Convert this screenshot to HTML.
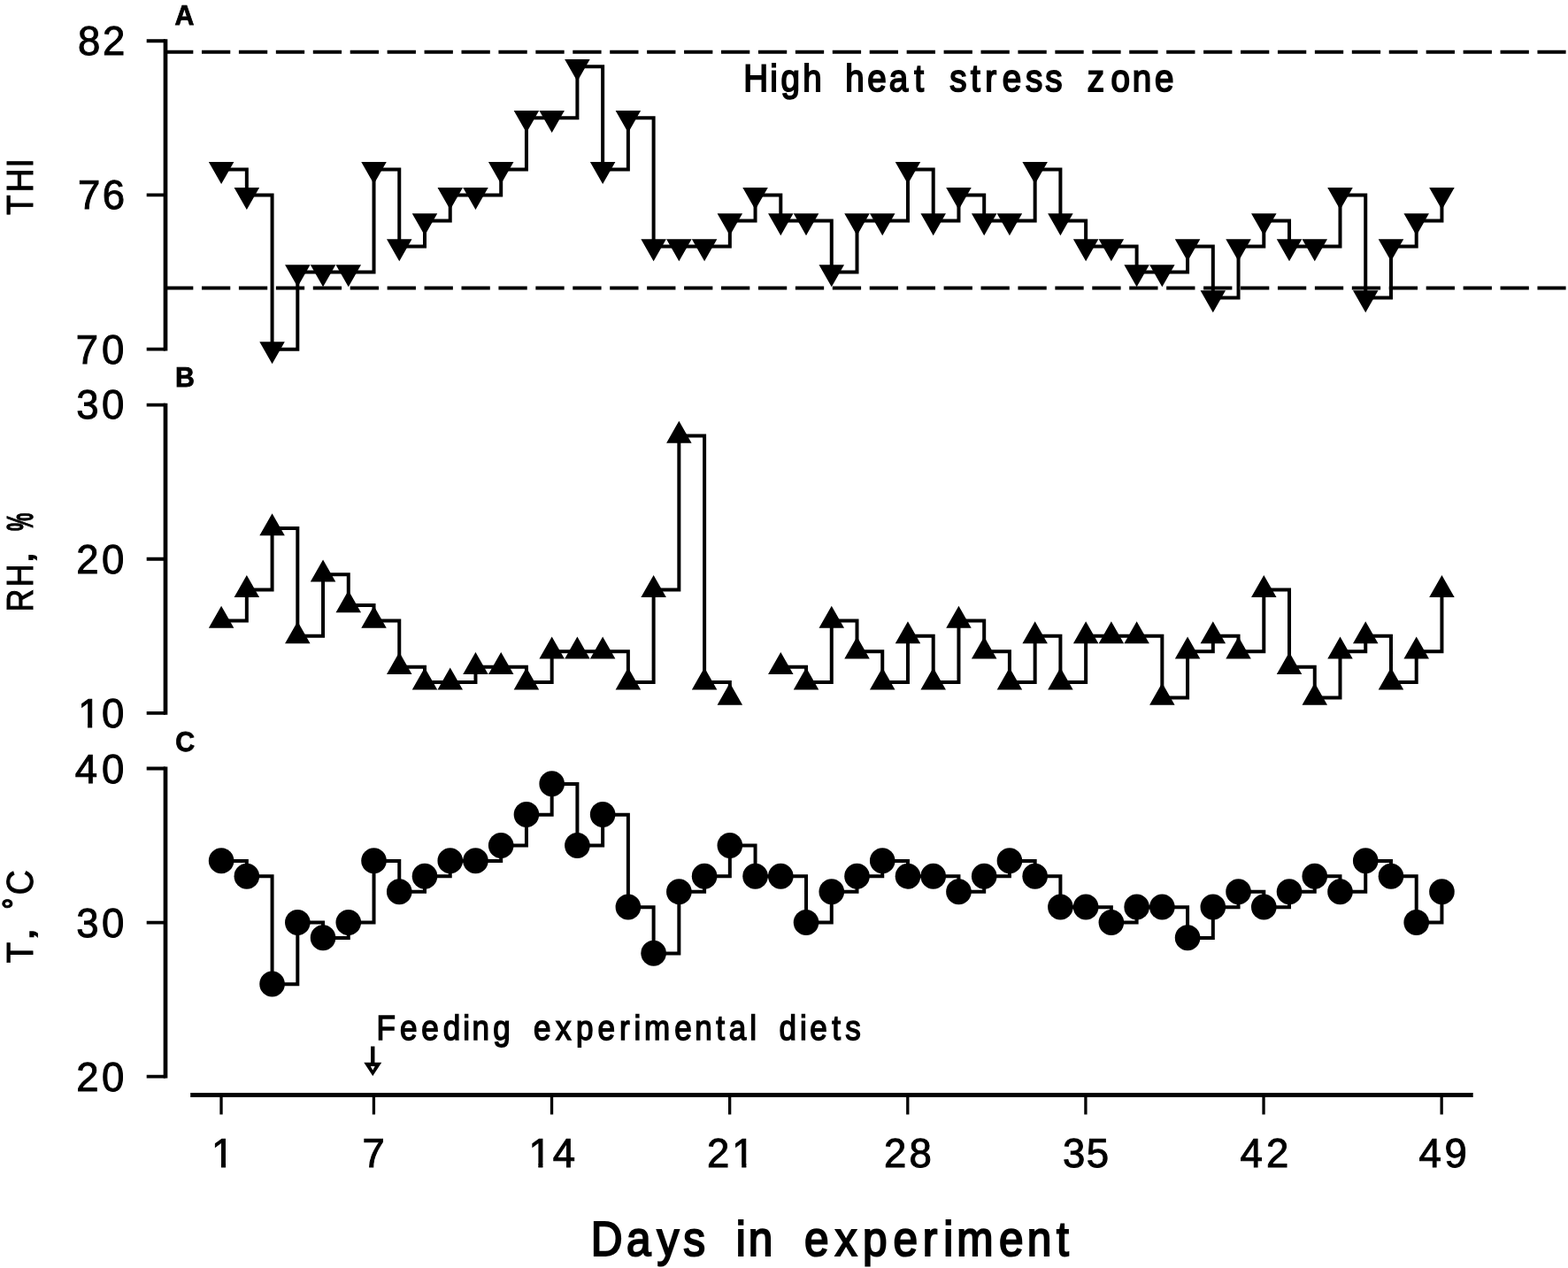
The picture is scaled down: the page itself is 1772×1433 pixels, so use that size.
<!DOCTYPE html>
<html lang="en"><head><meta charset="utf-8"><title>Days in experiment</title>
<style>html,body{margin:0;padding:0;background:#fff}body{width:1772px;height:1433px;overflow:hidden}svg{display:block}text{font-family:"Liberation Sans",sans-serif;fill:#000;text-rendering:geometricPrecision}</style>
</head><body>
<svg width="1772" height="1433" viewBox="0 0 1772 1433">
<rect width="1772" height="1433" fill="#fff"/>
<defs><clipPath id="k1" clipPathUnits="userSpaceOnUse"><path clip-rule="evenodd" d="M0 0H1772V1433H0ZM89.1 817.9H99.05V824.8H89.1ZM104.15 817.9H114.1V824.8H104.15Z"/></clipPath><clipPath id="k2" clipPathUnits="userSpaceOnUse"><path clip-rule="evenodd" d="M0 0H1772V1433H0ZM240 1314.7H249.95V1321.6H240ZM255.05 1314.7H265V1321.6H255.05Z"/></clipPath><clipPath id="k3" clipPathUnits="userSpaceOnUse"><path clip-rule="evenodd" d="M0 0H1772V1433H0ZM598.4 1314.7H608.35V1321.6H598.4ZM613.45 1314.7H623.4V1321.6H613.45Z"/></clipPath><clipPath id="k4" clipPathUnits="userSpaceOnUse"><path clip-rule="evenodd" d="M0 0H1772V1433H0ZM828.3 1314.7H838.25V1321.6H828.3ZM843.35 1314.7H853.3V1321.6H843.35Z"/></clipPath></defs>
<g stroke="#000" stroke-width="4" stroke-dasharray="32.3 9.63" fill="none">
<path d="M186.05 58.85H1769.6"/>
<path d="M186.05 325.4H1769.6"/>
</g>
<g stroke="#000" fill="none" stroke-linecap="butt">
<path d="M187 44.37V396.53" stroke-width="4.7"/>
<path d="M165.7 46.27H187M165.7 220.45H187M165.7 394.63H187" stroke-width="3.8"/>
<path d="M187 455.65V807.85" stroke-width="4.7"/>
<path d="M165.7 457.55H187M165.7 631.75H187M165.7 805.95H187" stroke-width="3.8"/>
<path d="M187 866.6V1218.6" stroke-width="4.7"/>
<path d="M165.7 868.5H187M165.7 1042.6H187M165.7 1216.7H187" stroke-width="3.8"/>
<path d="M215.2 1237.5H1664.7" stroke-width="5"/>
<path d="M250.02 1237.5V1259.4M422.41 1237.5V1259.4M623.54 1237.5V1259.4M824.66 1237.5V1259.4M1025.79 1237.5V1259.4M1226.91 1237.5V1259.4M1428.04 1237.5V1259.4M1629.16 1237.5V1259.4" stroke-width="3.3"/>
</g>
<g stroke="#000" stroke-width="4" fill="none" stroke-linejoin="miter" stroke-linecap="butt">
<path d="M250.1 191.42H278.84V220.45H307.57V394.63H336.31V307.54H365.05V307.54H393.78V307.54H422.52V191.42H451.25V278.51H479.99V249.48H508.73V220.45H537.46V220.45H566.2V191.42H594.94V133.36H623.67V133.36H652.41V75.3H681.14V191.42H709.88V133.36H738.62V278.51H767.35V278.51H796.09V278.51H824.83V249.48H853.56V220.45H882.3V249.48H911.03V249.48H939.77V307.54H968.51V249.48H997.24V249.48H1025.98V191.42H1054.71V249.48H1083.45V220.45H1112.19V249.48H1140.92V249.48H1169.66V191.42H1198.4V249.48H1227.13V278.51H1255.87V278.51H1284.61V307.54H1313.34V307.54H1342.08V278.51H1370.81V336.57H1399.55V278.51H1428.29V249.48H1457.02V278.51H1485.76V278.51H1514.49V220.45H1543.23V336.57H1571.97V278.51H1600.7V249.48H1629.44V220.45"/>
<path d="M250.1 701.43H278.84V666.59H307.57V596.91H336.31V718.85H365.05V649.17H393.78V684.01H422.52V701.43H451.25V753.69H479.99V771.11H508.73V771.11H537.46V753.69H566.2V753.69H594.94V771.11H623.67V736.27H652.41V736.27H681.14V736.27H709.88V771.11H738.62V666.59H767.35V492.39H796.09V771.11H824.83V788.53 M882.3 753.69H911.03V771.11H939.77V701.43H968.51V736.27H997.24V771.11H1025.98V718.85H1054.71V771.11H1083.45V701.43H1112.19V736.27H1140.92V771.11H1169.66V718.85H1198.4V771.11H1227.13V718.85H1255.87V718.85H1284.61V718.85H1313.34V788.53H1342.08V736.27H1370.81V718.85H1399.55V736.27H1428.29V666.59H1457.02V753.69H1485.76V788.53H1514.49V736.27H1543.23V718.85H1571.97V771.11H1600.7V736.27H1629.44V666.59"/>
<path d="M250.1 972.96H278.84V990.37H307.57V1112.24H336.31V1042.6H365.05V1060.01H393.78V1042.6H422.52V972.96H451.25V1007.78H479.99V990.37H508.73V972.96H537.46V972.96H566.2V955.55H594.94V920.73H623.67V885.91H652.41V955.55H681.14V920.73H709.88V1025.19H738.62V1077.42H767.35V1007.78H796.09V990.37H824.83V955.55H853.56V990.37H882.3V990.37H911.03V1042.6H939.77V1007.78H968.51V990.37H997.24V972.96H1025.98V990.37H1054.71V990.37H1083.45V1007.78H1112.19V990.37H1140.92V972.96H1169.66V990.37H1198.4V1025.19H1227.13V1025.19H1255.87V1042.6H1284.61V1025.19H1313.34V1025.19H1342.08V1060.01H1370.81V1025.19H1399.55V1007.78H1428.29V1025.19H1457.02V1007.78H1485.76V990.37H1514.49V1007.78H1543.23V972.96H1571.97V990.37H1600.7V1042.6H1629.44V1007.78"/>
</g>
<path fill="#000" d="M235.85 183.09h28.5l-14.25 25zM264.59 212.12h28.5l-14.25 25zM293.32 386.3h28.5l-14.25 25zM322.06 299.21h28.5l-14.25 25zM350.8 299.21h28.5l-14.25 25zM379.53 299.21h28.5l-14.25 25zM408.27 183.09h28.5l-14.25 25zM437 270.18h28.5l-14.25 25zM465.74 241.15h28.5l-14.25 25zM494.48 212.12h28.5l-14.25 25zM523.21 212.12h28.5l-14.25 25zM551.95 183.09h28.5l-14.25 25zM580.69 125.03h28.5l-14.25 25zM609.42 125.03h28.5l-14.25 25zM638.16 66.97h28.5l-14.25 25zM666.89 183.09h28.5l-14.25 25zM695.63 125.03h28.5l-14.25 25zM724.37 270.18h28.5l-14.25 25zM753.1 270.18h28.5l-14.25 25zM781.84 270.18h28.5l-14.25 25zM810.58 241.15h28.5l-14.25 25zM839.31 212.12h28.5l-14.25 25zM868.05 241.15h28.5l-14.25 25zM896.78 241.15h28.5l-14.25 25zM925.52 299.21h28.5l-14.25 25zM954.26 241.15h28.5l-14.25 25zM982.99 241.15h28.5l-14.25 25zM1011.73 183.09h28.5l-14.25 25zM1040.46 241.15h28.5l-14.25 25zM1069.2 212.12h28.5l-14.25 25zM1097.94 241.15h28.5l-14.25 25zM1126.67 241.15h28.5l-14.25 25zM1155.41 183.09h28.5l-14.25 25zM1184.15 241.15h28.5l-14.25 25zM1212.88 270.18h28.5l-14.25 25zM1241.62 270.18h28.5l-14.25 25zM1270.36 299.21h28.5l-14.25 25zM1299.09 299.21h28.5l-14.25 25zM1327.83 270.18h28.5l-14.25 25zM1356.56 328.24h28.5l-14.25 25zM1385.3 270.18h28.5l-14.25 25zM1414.04 241.15h28.5l-14.25 25zM1442.77 270.18h28.5l-14.25 25zM1471.51 270.18h28.5l-14.25 25zM1500.24 212.12h28.5l-14.25 25zM1528.98 328.24h28.5l-14.25 25zM1557.72 270.18h28.5l-14.25 25zM1586.45 241.15h28.5l-14.25 25zM1615.19 212.12h28.5l-14.25 25z"/>
<path fill="#000" d="M235.85 709.76h28.5l-14.25 -25zM264.59 674.92h28.5l-14.25 -25zM293.32 605.24h28.5l-14.25 -25zM322.06 727.18h28.5l-14.25 -25zM350.8 657.5h28.5l-14.25 -25zM379.53 692.34h28.5l-14.25 -25zM408.27 709.76h28.5l-14.25 -25zM437 762.02h28.5l-14.25 -25zM465.74 779.44h28.5l-14.25 -25zM494.48 779.44h28.5l-14.25 -25zM523.21 762.02h28.5l-14.25 -25zM551.95 762.02h28.5l-14.25 -25zM580.69 779.44h28.5l-14.25 -25zM609.42 744.6h28.5l-14.25 -25zM638.16 744.6h28.5l-14.25 -25zM666.89 744.6h28.5l-14.25 -25zM695.63 779.44h28.5l-14.25 -25zM724.37 674.92h28.5l-14.25 -25zM753.1 500.72h28.5l-14.25 -25zM781.84 779.44h28.5l-14.25 -25zM810.58 796.86h28.5l-14.25 -25zM868.05 762.02h28.5l-14.25 -25zM896.78 779.44h28.5l-14.25 -25zM925.52 709.76h28.5l-14.25 -25zM954.26 744.6h28.5l-14.25 -25zM982.99 779.44h28.5l-14.25 -25zM1011.73 727.18h28.5l-14.25 -25zM1040.46 779.44h28.5l-14.25 -25zM1069.2 709.76h28.5l-14.25 -25zM1097.94 744.6h28.5l-14.25 -25zM1126.67 779.44h28.5l-14.25 -25zM1155.41 727.18h28.5l-14.25 -25zM1184.15 779.44h28.5l-14.25 -25zM1212.88 727.18h28.5l-14.25 -25zM1241.62 727.18h28.5l-14.25 -25zM1270.36 727.18h28.5l-14.25 -25zM1299.09 796.86h28.5l-14.25 -25zM1327.83 744.6h28.5l-14.25 -25zM1356.56 727.18h28.5l-14.25 -25zM1385.3 744.6h28.5l-14.25 -25zM1414.04 674.92h28.5l-14.25 -25zM1442.77 762.02h28.5l-14.25 -25zM1471.51 796.86h28.5l-14.25 -25zM1500.24 744.6h28.5l-14.25 -25zM1528.98 727.18h28.5l-14.25 -25zM1557.72 779.44h28.5l-14.25 -25zM1586.45 744.6h28.5l-14.25 -25zM1615.19 674.92h28.5l-14.25 -25z"/>
<g fill="#000">
<ellipse cx="250.1" cy="972.81" rx="14.3" ry="14.5"/>
<ellipse cx="278.84" cy="990.22" rx="14.3" ry="14.5"/>
<ellipse cx="307.57" cy="1112.09" rx="14.3" ry="14.5"/>
<ellipse cx="336.31" cy="1042.45" rx="14.3" ry="14.5"/>
<ellipse cx="365.05" cy="1059.86" rx="14.3" ry="14.5"/>
<ellipse cx="393.78" cy="1042.45" rx="14.3" ry="14.5"/>
<ellipse cx="422.52" cy="972.81" rx="14.3" ry="14.5"/>
<ellipse cx="451.25" cy="1007.63" rx="14.3" ry="14.5"/>
<ellipse cx="479.99" cy="990.22" rx="14.3" ry="14.5"/>
<ellipse cx="508.73" cy="972.81" rx="14.3" ry="14.5"/>
<ellipse cx="537.46" cy="972.81" rx="14.3" ry="14.5"/>
<ellipse cx="566.2" cy="955.4" rx="14.3" ry="14.5"/>
<ellipse cx="594.94" cy="920.58" rx="14.3" ry="14.5"/>
<ellipse cx="623.67" cy="885.76" rx="14.3" ry="14.5"/>
<ellipse cx="652.41" cy="955.4" rx="14.3" ry="14.5"/>
<ellipse cx="681.14" cy="920.58" rx="14.3" ry="14.5"/>
<ellipse cx="709.88" cy="1025.04" rx="14.3" ry="14.5"/>
<ellipse cx="738.62" cy="1077.27" rx="14.3" ry="14.5"/>
<ellipse cx="767.35" cy="1007.63" rx="14.3" ry="14.5"/>
<ellipse cx="796.09" cy="990.22" rx="14.3" ry="14.5"/>
<ellipse cx="824.83" cy="955.4" rx="14.3" ry="14.5"/>
<ellipse cx="853.56" cy="990.22" rx="14.3" ry="14.5"/>
<ellipse cx="882.3" cy="990.22" rx="14.3" ry="14.5"/>
<ellipse cx="911.03" cy="1042.45" rx="14.3" ry="14.5"/>
<ellipse cx="939.77" cy="1007.63" rx="14.3" ry="14.5"/>
<ellipse cx="968.51" cy="990.22" rx="14.3" ry="14.5"/>
<ellipse cx="997.24" cy="972.81" rx="14.3" ry="14.5"/>
<ellipse cx="1025.98" cy="990.22" rx="14.3" ry="14.5"/>
<ellipse cx="1054.71" cy="990.22" rx="14.3" ry="14.5"/>
<ellipse cx="1083.45" cy="1007.63" rx="14.3" ry="14.5"/>
<ellipse cx="1112.19" cy="990.22" rx="14.3" ry="14.5"/>
<ellipse cx="1140.92" cy="972.81" rx="14.3" ry="14.5"/>
<ellipse cx="1169.66" cy="990.22" rx="14.3" ry="14.5"/>
<ellipse cx="1198.4" cy="1025.04" rx="14.3" ry="14.5"/>
<ellipse cx="1227.13" cy="1025.04" rx="14.3" ry="14.5"/>
<ellipse cx="1255.87" cy="1042.45" rx="14.3" ry="14.5"/>
<ellipse cx="1284.61" cy="1025.04" rx="14.3" ry="14.5"/>
<ellipse cx="1313.34" cy="1025.04" rx="14.3" ry="14.5"/>
<ellipse cx="1342.08" cy="1059.86" rx="14.3" ry="14.5"/>
<ellipse cx="1370.81" cy="1025.04" rx="14.3" ry="14.5"/>
<ellipse cx="1399.55" cy="1007.63" rx="14.3" ry="14.5"/>
<ellipse cx="1428.29" cy="1025.04" rx="14.3" ry="14.5"/>
<ellipse cx="1457.02" cy="1007.63" rx="14.3" ry="14.5"/>
<ellipse cx="1485.76" cy="990.22" rx="14.3" ry="14.5"/>
<ellipse cx="1514.49" cy="1007.63" rx="14.3" ry="14.5"/>
<ellipse cx="1543.23" cy="972.81" rx="14.3" ry="14.5"/>
<ellipse cx="1571.97" cy="990.22" rx="14.3" ry="14.5"/>
<ellipse cx="1600.7" cy="1042.45" rx="14.3" ry="14.5"/>
<ellipse cx="1629.44" cy="1007.63" rx="14.3" ry="14.5"/>
</g>
<g>
<path fill="#000" d="M419.05 1182.5h4.4V1201.7h-4.4z"/>
<path fill="#000" d="M411.25 1200.7h20l-10 15.2z"/>
<path fill="#fff" d="M418.85 1205h4.8l-2.4 4.4z"/>
</g>
<g>
<text transform="translate(0 62.4) scale(0.985 1)" x="89.44 117.66" y="0" font-size="46.2" stroke="#000" stroke-width="1" xml:space="preserve">82</text>
<text transform="translate(0 236.3) scale(0.985 1)" x="89.28 117.5" y="0" font-size="46.2" stroke="#000" stroke-width="1" xml:space="preserve">76</text>
<text transform="translate(0 411.3) scale(0.985 1)" x="86.98 116.65" y="0" font-size="46.2" stroke="#000" stroke-width="1" xml:space="preserve">70</text>
<text transform="translate(0 473.3) scale(0.985 1)" x="87.69 116.65" y="0" font-size="46.2" stroke="#000" stroke-width="1" xml:space="preserve">30</text>
<text transform="translate(0 647.7) scale(0.985 1)" x="87.44 116.65" y="0" font-size="46.2" stroke="#000" stroke-width="1" xml:space="preserve">20</text>
<g clip-path="url(#k1)"><text transform="translate(0 822.3) scale(0.985 1)" x="89.49 116.65" y="0" font-size="46.2" stroke="#000" stroke-width="1" xml:space="preserve">10</text></g>
<text transform="translate(0 884.5) scale(0.985 1)" x="86.13 116.65" y="0" font-size="46.2" stroke="#000" stroke-width="1" xml:space="preserve">40</text>
<text transform="translate(0 1058.5) scale(0.985 1)" x="87.69 116.65" y="0" font-size="46.2" stroke="#000" stroke-width="1" xml:space="preserve">30</text>
<text transform="translate(0 1232.8) scale(0.985 1)" x="87.44 116.65" y="0" font-size="46.2" stroke="#000" stroke-width="1" xml:space="preserve">20</text>
</g>
<g>
<g clip-path="url(#k2)"><text transform="translate(0 1319.1) scale(0.985 1)" x="242.68" y="0" font-size="46.2" stroke="#000" stroke-width="1" xml:space="preserve">1</text></g>
<text transform="translate(0 1319.1) scale(0.985 1)" x="415.86" y="0" font-size="46.2" stroke="#000" stroke-width="1" xml:space="preserve">7</text>
<g clip-path="url(#k3)"><text transform="translate(0 1319.1) scale(0.985 1)" x="606.54 634.33" y="0" font-size="46.2" stroke="#000" stroke-width="1" xml:space="preserve">14</text></g>
<g clip-path="url(#k4)"><text transform="translate(0 1319.1) scale(0.985 1)" x="811.11 839.94" y="0" font-size="46.2" stroke="#000" stroke-width="1" xml:space="preserve">21</text></g>
<text transform="translate(0 1319.1) scale(0.985 1)" x="1014.21 1043.14" y="0" font-size="46.2" stroke="#000" stroke-width="1" xml:space="preserve">28</text>
<text transform="translate(0 1319.1) scale(0.985 1)" x="1219.42 1246.49" y="0" font-size="46.2" stroke="#000" stroke-width="1" xml:space="preserve">35</text>
<text transform="translate(0 1319.1) scale(0.985 1)" x="1422.88 1452.89" y="0" font-size="46.2" stroke="#000" stroke-width="1" xml:space="preserve">42</text>
<text transform="translate(0 1319.1) scale(0.985 1)" x="1627.81 1657.47" y="0" font-size="46.2" stroke="#000" stroke-width="1" xml:space="preserve">49</text>
</g>
<g>
<text transform="translate(0 28.4) scale(0.96 1)" x="205.72" y="0" font-size="31.6" font-weight="bold" stroke="#000" stroke-width="0.8" xml:space="preserve">A</text>
<text transform="translate(0 437.3) scale(0.96 1)" x="206.3" y="0" font-size="31.6" font-weight="bold" stroke="#000" stroke-width="0.8" xml:space="preserve">B</text>
<text transform="translate(0 849.3) scale(0.96 1)" x="206.43" y="0" font-size="31.6" font-weight="bold" stroke="#000" stroke-width="0.8" xml:space="preserve">C</text>
</g>
<text transform="translate(0 103.08) scale(0.8995 1)" x="934.25 967.62 980.99 1008.65 1032.51 1061.85 1089.89 1117.06 1148.63 1160.54 1193.07 1219.44 1237.76 1259.37 1288.4 1313.13 1334.58 1365.91 1395.91 1422.61 1450.76" y="0" font-size="42.9" stroke="#000" stroke-width="1.85" xml:space="preserve">High heat stress zone</text>
<text transform="translate(0 1175.05) scale(0.893 1)" x="476.48 506.08 533.23 560.85 586.01 597.33 624 645.86 675.22 703.32 728.94 756.58 783.8 802.47 815.26 853.5 879.36 906.09 922.34 948.7 957.44 986.1 1012.22 1025 1053.01 1069.85" y="0" font-size="39.3" stroke="#000" stroke-width="1.5" xml:space="preserve">Feeding experimental diets</text>
<text transform="translate(0 1418.7) scale(0.901 1)" x="741.21 785.81 824.03 857.12 884.62 923.09 938.55 969.14 1008.95 1047.56 1082.26 1120.5 1157.45 1183.42 1200 1253.07 1288.38 1325.11" y="0" font-size="55" stroke="#000" stroke-width="2.1" xml:space="preserve">Days in experiment</text>
<text transform="translate(36.8 243) rotate(-90) scale(0.88 1)" x="-0.02 29.37 60.68" y="0" font-size="42.15" stroke="#000" stroke-width="1" xml:space="preserve">THI</text>
<text transform="translate(36.7 688.85) rotate(-90) scale(0.85 1)" x="-3.18 30.13 63.7 75.41 104.64" y="0" font-size="42.15" stroke="#000" stroke-width="1" xml:space="preserve">RH<tspan font-weight="bold" font-size="28.24" textLength="10.98" lengthAdjust="spacingAndGlyphs">,</tspan> <tspan font-weight="bold" textLength="23.99" lengthAdjust="spacingAndGlyphs">%</tspan></text>
<text transform="translate(36.9 1088.2) rotate(-90) scale(0.92 1)" x="-0.4 29.2 40.91 66.19 83.59" y="0" font-size="42.15" stroke="#000" stroke-width="1" dy="0 0.6 -0.6 -8.8 8.8" xml:space="preserve">T<tspan font-weight="bold" font-size="28.24" textLength="11.77" lengthAdjust="spacingAndGlyphs">,</tspan> <tspan font-weight="bold" font-size="36.25" textLength="13.19" lengthAdjust="spacingAndGlyphs">°</tspan>C</text>
</svg>
</body></html>
